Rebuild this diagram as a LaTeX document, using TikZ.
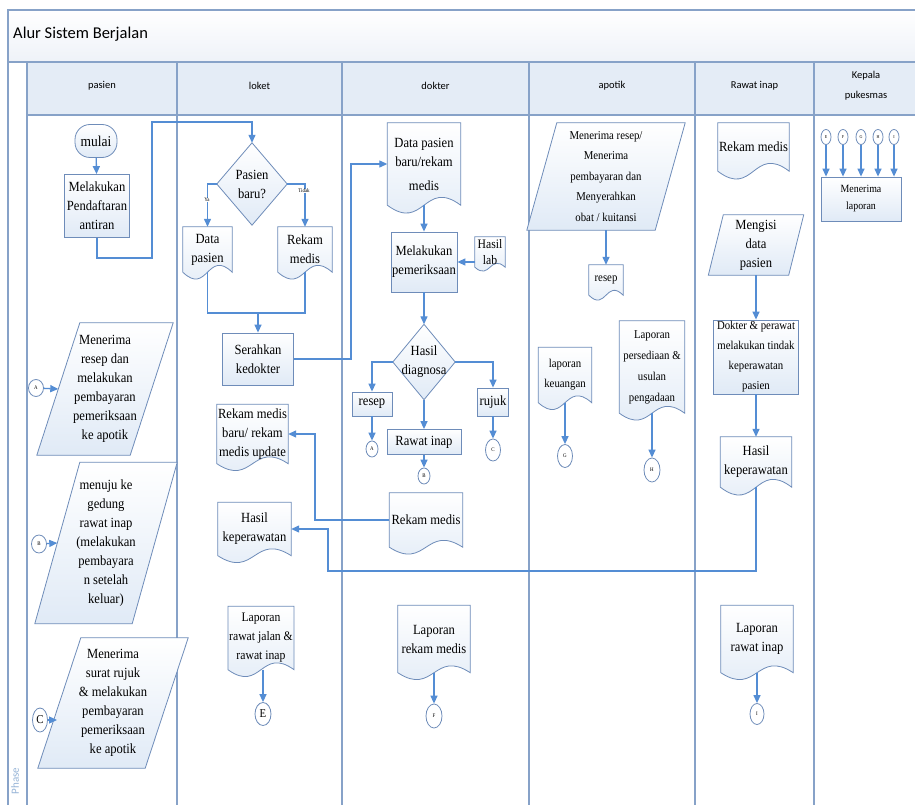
\documentclass[tikz,border=0pt]{standalone}
\usepackage{fontspec}
\setmainfont{Liberation Serif}[FakeStretch=0.9]
\newfontfamily\hdrfont{Carlito}
\usetikzlibrary{arrows.meta,calc,shapes.geometric}
\pgfdeclarelayer{lanes}
\pgfdeclarelayer{shapes}
\pgfsetlayers{lanes,shapes,main}

\definecolor{laneline}{RGB}{135,162,200}
\definecolor{flow}{RGB}{84,141,212}
\definecolor{edge}{RGB}{110,140,185}
\definecolor{shapefill}{RGB}{224,234,246}
\definecolor{headfill}{RGB}{228,236,246}
\definecolor{titlefill}{RGB}{238,242,248}
\definecolor{phasetext}{RGB}{150,180,215}

\newcommand\fsMain{\fontsize{14}{19}\selectfont}
\newcommand\fsSmall{\fontsize{12}{20}\selectfont}
\newcommand\fsTiny{\fontsize{5.5}{6}\selectfont}
\newcommand\fsHead{\hdrfont\fontsize{10.5}{20}\selectfont}

\tikzset{
  lane/.style={draw=laneline,line width=1.1pt},
  flowline/.style={draw=flow,line width=1.3pt},
  flowarrow/.style={flowline,-{Triangle[length=8pt,width=7pt]}},
  outline/.style={draw=edge,line width=0.8pt,top color=white,bottom color=shapefill},
  sz/.style 2 args={minimum width=#1,minimum height=#2},
  procbox/.style={outline,align=center,inner sep=1pt,font=\fsMain},
  termbox/.style={outline,rounded corners=15pt,align=center,inner sep=1pt,font=\fontsize{15}{18}\selectfont},
  txtnode/.style={align=center,inner sep=1pt,font=\fsMain},
  conncirc/.style 2 args={ellipse,draw=edge,line width=0.8pt,fill=white,minimum width=#1,minimum height=#2,inner sep=0pt,font=\fsTiny},
  hdr/.style={font=\fsHead,align=center,inner sep=0pt},
  flowlabel/.style={font=\fsTiny,fill=white,inner sep=0.4pt},
}

% document symbol: straight top and sides, wavy bottom (trough left, crest right)
\newcommand\docshape[2][7]{%
  \begin{pgfonlayer}{shapes}
    \path[outline] (#2.south west) -- (#2.north west) -- (#2.north east) -- (#2.south east)
      .. controls ($(#2.south)+(0,-3.4*#1)$) and ($(#2.south)+(0,3.4*#1)$) .. (#2.south west) -- cycle;
  \end{pgfonlayer}}
% data symbol: parallelogram leaning right
\newcommand\parashape[2]{%
  \begin{pgfonlayer}{shapes}
    \path[outline] ($(#2.north west)+(#1/2,0)$) -- ($(#2.north east)+(#1/2,0)$)
      -- ($(#2.south east)-(#1/2,0)$) -- ($(#2.south west)-(#1/2,0)$) -- cycle;
  \end{pgfonlayer}}
% decision symbol
\newcommand\decshape[1]{%
  \begin{pgfonlayer}{shapes}
    \path[outline] (#1.north) -- (#1.east) -- (#1.south) -- (#1.west) -- cycle;
  \end{pgfonlayer}}

\begin{document}
\begin{tikzpicture}[x=1pt,y=-1pt]
\useasboundingbox (0,0) rectangle (915,805);

% ---- swimlane frame ----
\begin{pgfonlayer}{lanes}
  \fill[white] (0,0) rectangle (915,805);
  \path[top color=white,bottom color=titlefill] (8,10) rectangle (915,62);
  \fill[headfill] (27,62) rectangle (915,115);
  \draw[lane] (915,10) -- (8,10) -- (8,805);
  \draw[lane] (8,62) -- (915,62);
  \draw[lane] (27,115) -- (915,115);
  \foreach \x in {27,177,342,529,695,814} \draw[lane] (\x,62) -- (\x,805);
\end{pgfonlayer}

\node[anchor=west,font=\hdrfont\fontsize{16.5}{20}\selectfont,inner sep=0pt] (title) at (13,34) {Alur Sistem Berjalan};
\node[hdr] (hPas) at (102,86) {pasien};
\node[hdr] (hLok) at (259.5,86) {loket};
\node[hdr] (hDok) at (435.5,86) {dokter};
\node[hdr] (hApo) at (612,86) {apotik};
\node[hdr] (hRi) at (754.5,86) {Rawat inap};
\node[hdr] (hKp) at (866,86) {Kepala\\pukesmas};
\node[rotate=90,font=\hdrfont\fontsize{11}{12}\selectfont,text=phasetext,inner sep=0pt] (phase) at (15,781) {Phase};

% ---- pasien ----
\node[termbox,sz={42}{33}] (mulai) at (96,141) {mulai};
\node[procbox,sz={65}{63}] (daftar) at (97,206) {Melakukan\\Pendaftaran\\antiran};
\node[txtnode,sz={93}{132}] (pA) at (105,389) {Menerima\\resep dan\\melakukan\\pembayaran\\pemeriksaan\\ke apotik};
\parashape{43}{pA}
\node[txtnode,sz={97}{161}] (pB) at (106,543) {menuju ke\\gedung\\rawat inap\\(melakukan\\pembayara\\n setelah\\keluar)};
\parashape{45}{pB}
\node[txtnode,sz={107}{130}] (pC) at (113,703) {Menerima\\surat rujuk\\\& melakukan\\pembayaran\\pemeriksaan\\ke apotik};
\parashape{43}{pC}
\node[conncirc={15}{17}] (cA) at (36,388) {A};
\node[conncirc={15}{18}] (cB) at (39,544) {B};
\node[conncirc={15}{24},font=\fontsize{12}{12}\selectfont] (cC) at (40,720) {C};
\coordinate (pCin) at (57,720);

% ---- loket ----
\node[txtnode,sz={70}{82}] (dq) at (252,184) {Pasien\\baru?};
\decshape{dq}
\node[txtnode,sz={49}{45}] (dpas) at (207.5,249.5) {Data\\pasien};
\docshape{dpas}
\node[txtnode,sz={54}{45}] (rkm) at (305,249.5) {Rekam\\medis};
\docshape{rkm}
\node[procbox,sz={71}{52}] (serah) at (258,359) {Serahkan\\kedokter};
\node[txtnode,sz={69}{59}] (rmb) at (252.5,434) {Rekam medis\\baru/ rekam\\medis update};
\docshape{rmb}
\node[txtnode,sz={73}{53}] (hk) at (254.5,529) {Hasil\\keperawatan};
\docshape{hk}
\node[txtnode,sz={62}{63},font=\fontsize{13}{19}\selectfont] (lrj) at (261,638) {Laporan\\rawat jalan \&\\rawat inap};
\docshape{lrj}
\node[conncirc={16}{23},font=\fontsize{12}{12}\selectfont] (cE) at (263,714) {E};

% ---- dokter ----
\node[txtnode,sz={73}{82}] (dpb) at (424,164) {Data pasien\\baru/rekam\\[5pt]medis};
\docshape[8]{dpb}
\node[procbox,sz={66}{60}] (per) at (424,262) {Melakukan\\pemeriksaan};
\node[txtnode,sz={30}{30},font=\fontsize{13}{16}\selectfont] (lab) at (490,252) {Hasil\\lab};
\docshape[4]{lab}
\node[txtnode,sz={62}{75}] (diag) at (424,362) {Hasil\\diagnosa};
\decshape{diag}
\node[procbox,sz={40}{24}] (resepD) at (372,404) {resep};
\node[procbox,sz={31}{28}] (rujuk) at (493,402) {rujuk};
\node[procbox,sz={74}{25}] (rinap) at (424,442) {Rawat inap};
\node[conncirc={12}{16}] (cA2) at (372,449) {A};
\node[conncirc={12}{16}] (cB2) at (424,476) {B};
\node[conncirc={15}{22}] (cC2) at (493,450) {C};
\node[txtnode,sz={73}{54}] (rmD) at (426,520) {Rekam medis};
\docshape{rmD}
\node[txtnode,sz={72}{67}] (lrm) at (434,639) {Laporan\\rekam medis};
\docshape{lrm}
\node[conncirc={16}{24}] (cF) at (434,716) {F};

% ---- apotik ----
\node[txtnode,sz={128}{107},font=\fontsize{12}{20.5}\selectfont] (pApo) at (606,176.5) {Menerima resep/\\Menerima\\pembayaran dan\\Menyerahkan\\obat / kuitansi};
\parashape{30}{pApo}
\node[txtnode,sz={34}{30},font=\fsSmall] (resepA) at (606,280) {resep};
\docshape[5]{resepA}
\node[txtnode,sz={53}{55},font=\fsSmall] (lk) at (565,375) {laporan\\keuangan};
\docshape{lk}
\node[conncirc={15}{23}] (cG) at (565,456) {G};
\node[txtnode,sz={65}{92},font=\fontsize{12}{21}\selectfont] (lp) at (652,367) {Laporan\\persediaan \&\\usulan\\pengadaan};
\docshape{lp}
\node[conncirc={16}{24}] (cH) at (652,470) {H};

% ---- rawat inap ----
\node[txtnode,sz={71}{48}] (rmR) at (753.5,147) {Rekam medis};
\docshape[8]{rmR}
\node[txtnode,sz={80}{60}] (pMD) at (756,245) {Mengisi\\data\\pasien};
\parashape{15}{pMD}
\node[procbox,sz={85}{74},font=\fsSmall] (dpk) at (756,357) {Dokter \& perawat\\melakukan tindak\\keperawatan\\pasien};
\node[txtnode,sz={71}{50}] (hkR) at (756,462) {Hasil\\keperawatan};
\docshape[8]{hkR}
\node[txtnode,sz={72}{67}] (lri) at (757,639) {Laporan\\rawat inap};
\docshape{lri}
\node[conncirc={14}{21}] (cI) at (757,714) {I};

% ---- kepala pukesmas ----
\node[procbox,sz={80}{44},font=\fontsize{11}{17}\selectfont] (ml) at (861,199) {Menerima\\laporan};
\foreach \n/\x/\l in {k1/826/E,k2/843/F,k3/861/G,k4/878/H,k5/894/I}{
  \node[conncirc={10}{15},font=\fontsize{4.5}{5}\selectfont] (\n) at (\x,137) {\l};
  \draw[flowarrow] (\n) -- (\n |- ml.north);
}

% ---- connectors ----
\coordinate (r1) at (152,258);
\coordinate (r2) at (152,122);
\coordinate (mrg) at (258,313);
\coordinate (r4) at (351,359);
\coordinate (j1) at (315,520);
\coordinate (j2) at (756,571);
\coordinate (j3) at (328,571);

\draw[flowarrow] (mulai) -- (daftar);
\draw[flowarrow] (daftar.south) |- (r1) -- (r2) -| (dq.north);
\draw[flowarrow] (dq.west) -| (dpas.north);
\draw[flowarrow] (dq.east) -| (rkm.north);
\node[flowlabel] (lblYa) at (207,200) {Ya};
\node[flowlabel] (lblTidak) at (304,191) {Tidak};
\draw[flowline] (dpas.south) |- (mrg) -| (rkm.south);
\draw[flowarrow] (mrg) -- (serah.north);
\draw[flowarrow] (serah.east) -- (r4) |- (dpb.west);
\draw[flowarrow] (dpb.south) -- (per.north);
\draw[flowarrow] (lab.west |- per.east) -- (per.east);
\draw[flowarrow] (per) -- (diag);
\draw[flowarrow] (diag.west) -| (resepD.north);
\draw[flowarrow] (diag.east) -| (rujuk.north);
\draw[flowarrow] (diag) -- (rinap);
\draw[flowarrow] (resepD) -- (cA2);
\draw[flowarrow] (rinap) -- (cB2);
\draw[flowarrow] (rujuk) -- (cC2);
\draw[flowarrow] (rmD.west) -- (j1) |- (rmb.east);
\draw[flowarrow] (hkR.south) -- (j2) -- (j3) |- (hk.east);
\draw[flowarrow] (cE |- lrj.south) -- (cE);
\draw[flowarrow] (lrm.south) -- (cF);
\draw[flowarrow] (pApo.south) -- (resepA.north);
\draw[flowarrow] (lk.south) -- (cG);
\draw[flowarrow] (lp.south) -- (cH);
\draw[flowarrow] (pMD.south) -- (dpk.north);
\draw[flowarrow] (dpk) -- (hkR);
\draw[flowarrow] (lri.south) -- (cI);
\draw[flowarrow] (cA) -- (pA.west);
\draw[flowarrow] (cB) -- (pB.west);
\draw[flowarrow] (cC) -- (pCin);
\end{tikzpicture}
\end{document}
